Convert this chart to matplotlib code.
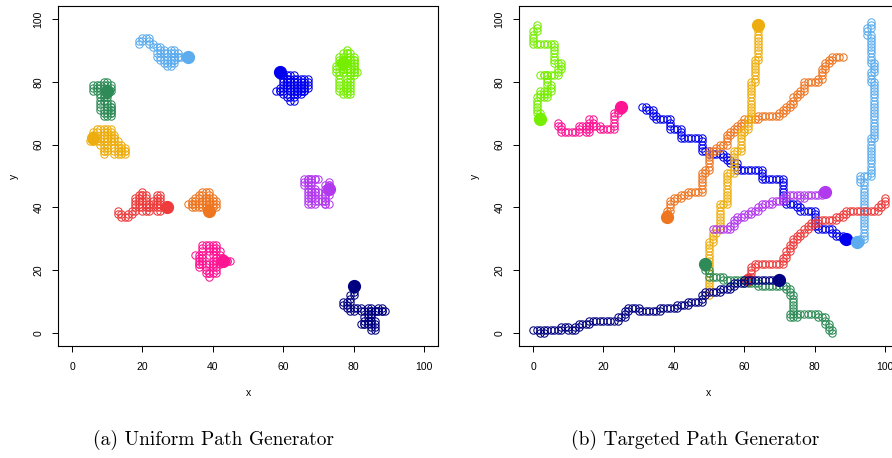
import re
import matplotlib
matplotlib.use("Agg")
import matplotlib.pyplot as plt

# each walker: start cell, moves as runs ("R3" = three unit steps right),
# and which end of the walk carries the big filled dot
uniform_colors = ["#5CACEE", "#2E8B57", "#EEAD0E", "#EE3B3B", "#EE7621",
                  "#FF1493", "#0000EE", "#76EE00", "#B23AEE", "#000080"]
uniform_starts = [(19, 92), (6, 79), (6, 62), (13, 39), (33, 41),
                  (35, 25), (59, 83), (77, 76), (73, 46), (80, 15)]
uniform_moves = [
    "U R U R2 D2 R D R2 D R D L2 D R D R D R D R U2 L U2 R U R D4 U2 R U D R3",
    "D2 R U2 R D R U2 R D R D2 L D L2 D R D L D3 R D2 R U3 R D3 U4 L U L U R U2",
    "U2 R U R4 D L2 D R3 D L6 D L R3 D R D3 U R U3 R U R D R D R D3 L2 U2 R D R2 U D2",
    "D R D R2 U R U R U4 R U R U D R D2 L2 D2 R D R U2 R D2 U R U2 R U2 R D3 L D2 R U R2",
    "R U R U R U R U R2 D2 R D R D2 L U L2 D L4 U R3 U R U D R D3",
    "R D4 U R U6 R2 D3 R U3 R D2 R D2 L D L D L2 D3 R D U R2 U2 L U R2 U R U D R2 L2",
    "D R D4 L D L R2 D R D R D R U8 L D3 L U3 D4 R D R2 U4 R D4 R U4 R D3 L D L U L D2 R",
    "R2 U5 L D4 L2 U6 L U2 R U3 R U R U D R D R D5 R L D L U2 L U3 L D4 U3 U R D R U R D3 L3 U2",
    "U2 D L D3 R L D3 R L U L3 D L2 U6 L U2 R4 L3 D R D2 R D R L D2 L U2",
    "D3 L D2 L2 D R D R D R U R2 D R2 U R D R2 U R D R L4 D6 R U3 L2 D L2 R U2 R U R",
]
uniform_dot = ["end", "end", "start", "end", "end",
               "end", "start", "end", "start", "start"]

targeted_colors = ["#76EE00", "#FF1493", "#0000EE", "#EE7621", "#EEAD0E",
                   "#5CACEE", "#B23AEE", "#EE3B3B", "#2E8B57", "#000080"]
targeted_starts = [(1, 98), (7, 67), (31, 72), (38, 37), (64, 98),
                   (92, 29), (51, 33), (61, 17), (49, 22), (0, 1)]
targeted_moves = [
    "D2 L D4 R6 D6 R2 D2 L D2 L5 R2 D3 R D2 L3 D R2 D L3 D5 R D2",
    "D R D2 R5 U2 R2 D2 R U4 R D2 R2 D R4 U5 R U R U",
    "R D R2 D2 R D R4 D3 R3 D3 R6 D4 R2 D R4 D R D R D R2 D2 R7 D3 R6 D7 R D R3 D R D R4 D5 R D R4 D R D R2 D R",
    "U2 R U3 R U R2 U R2 U R4 U6 R U R U6 R2 U R U R2 U3 R U R U R U R U R U R4 U R6 U R U R U R U R U2 R U R U R U3 R4 U R U3 R U2 R U R U R3",
    "D11 L D7 L D12 L D3 L D L D6 L2 D7 L2 D10 L2 D8 L D L D3 L D17",
    "R U R U18 L U2 R3 U12 R U18 L U3 R U3 L U9 L U2 R U2",
    "R5 U R U2 R U R2 U R2 U R2 U R U R3 U R3 U R U R4 D R U R5 U R",
    "U R U3 R U R8 U2 R U2 R U2 R U2 R U R U R U R U R U R2 U R5 U R2 U R U R9 U R U R U2",
    "D2 R D2 R4 D R6 D R4 D R8 D R D2 R D6 L D R2 U R6 D R2 D2 R D2 R D",
    "R2 D R U R5 U R2 D R2 U R U R3 U R8 U R2 U2 R U R3 D R6 U R5 U R3 U R4 U2 R U R4 U R3 U R U R3 U R10",
]
targeted_dot = ["end", "end", "end", "start", "start",
                "start", "end", "start", "start", "end"]

ticks = [0, 20, 40, 60, 80, 100]
titles = ["(a) Uniform Path Generator", "(b) Targeted Path Generator"]

STEP = {"U": (0, 1), "D": (0, -1), "L": (-1, 0), "R": (1, 0)}


def walk(start, moves):
    x, y = start
    xs, ys = [x], [y]
    for d, n in re.findall(r"([UDLR])(\d*)", moves):
        dx, dy = STEP[d]
        for _ in range(int(n or 1)):
            x += dx
            y += dy
            xs.append(x)
            ys.append(y)
    return xs, ys


def draw_panel(ax, colors, starts, moves, dots):
    for col, st, mv, dt in zip(colors, starts, moves, dots):
        xs, ys = walk(st, mv)
        ax.plot(xs, ys, "o", ls="none", ms=5.3, mfc="none", mec=col, mew=0.75)
        i = 0 if dt == "start" else -1
        ax.plot(xs[i], ys[i], "o", ms=8.5, color=col, mec=col)
    ax.set_xlim(-4, 104)
    ax.set_ylim(-4.1, 104.1)
    ax.set_xticks(ticks)
    ax.set_yticks(ticks)
    ax.set_yticklabels([str(t) for t in ticks], rotation=90, va="center")
    ax.tick_params(direction="out", length=4.5, width=0.7, labelsize=7.5,
                   pad=6)
    ax.tick_params(axis="x", pad=7)
    for s in ax.spines.values():
        s.set_linewidth(0.8)
    ax.set_xlabel("x", fontsize=7.5, va="center")
    ax.set_ylabel("y", fontsize=7.5, va="center", ha="center")
    ax.xaxis.set_label_coords(0.5, -0.138)
    ax.yaxis.set_label_coords(-0.116, 0.5)


plt.rcParams["font.family"] = ["Liberation Sans", "DejaVu Sans"]

fig = plt.figure(figsize=(8.92, 4.58), dpi=100)
ax1 = fig.add_axes([58 / 892, 112 / 458, 380 / 892, 340 / 458])
ax2 = fig.add_axes([519 / 892, 112 / 458, 380 / 892, 340 / 458])

draw_panel(ax1, uniform_colors, uniform_starts, uniform_moves, uniform_dot)
draw_panel(ax2, targeted_colors, targeted_starts, targeted_moves, targeted_dot)

fig.text(213 / 892, 1 - 440 / 458, titles[0], family="cmr10", fontsize=14,
         ha="center", va="center")
fig.text(695 / 892, 1 - 440 / 458, titles[1], family="cmr10", fontsize=14,
         ha="center", va="center")

fig.savefig("out.png", dpi=100)
